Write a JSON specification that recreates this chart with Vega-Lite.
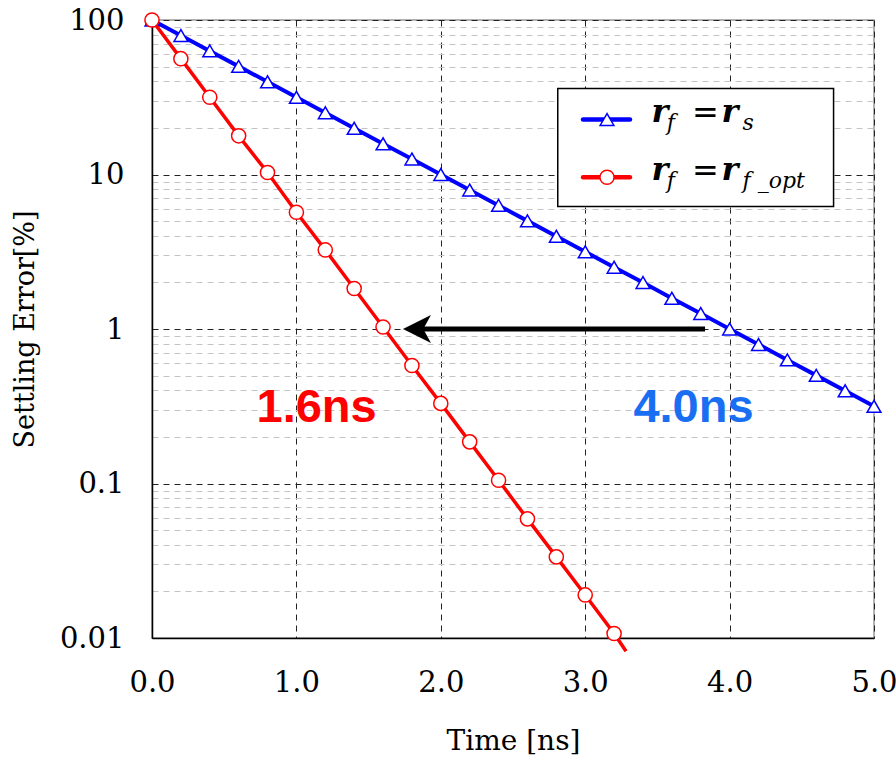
{
  "$schema": "https://vega.github.io/schema/vega-lite/v6.json",
  "width": 722,
  "height": 618,
  "autosize": {"type": "none"},
  "padding": {"left": 152, "top": 20, "right": 22, "bottom": 119},
  "background": "white",
  "config": {
    "view": {"stroke": "#999", "strokeWidth": 1.5},
    "font": "DejaVu Serif",
    "axis": {"labelFont": "DejaVu Serif", "titleFont": "DejaVu Serif", "titleFontWeight": "normal", "labelColor": "#000", "titleColor": "#000"}
  },
  "datasets": {
    "curves": [
      {"series": "rs", "t": 0.0, "v": 100},
      {"series": "rs", "t": 0.2, "v": 79.4},
      {"series": "rs", "t": 0.4, "v": 63.1},
      {"series": "rs", "t": 0.6, "v": 50.1},
      {"series": "rs", "t": 0.8, "v": 39.8},
      {"series": "rs", "t": 1.0, "v": 31.6},
      {"series": "rs", "t": 1.2, "v": 25.1},
      {"series": "rs", "t": 1.4, "v": 19.9},
      {"series": "rs", "t": 1.6, "v": 15.8},
      {"series": "rs", "t": 1.8, "v": 12.6},
      {"series": "rs", "t": 2.0, "v": 10.0},
      {"series": "rs", "t": 2.2, "v": 7.94},
      {"series": "rs", "t": 2.4, "v": 6.31},
      {"series": "rs", "t": 2.6, "v": 5.01},
      {"series": "rs", "t": 2.8, "v": 3.98},
      {"series": "rs", "t": 3.0, "v": 3.16},
      {"series": "rs", "t": 3.2, "v": 2.51},
      {"series": "rs", "t": 3.4, "v": 2.0},
      {"series": "rs", "t": 3.6, "v": 1.58},
      {"series": "rs", "t": 3.8, "v": 1.26},
      {"series": "rs", "t": 4.0, "v": 1.0},
      {"series": "rs", "t": 4.2, "v": 0.794},
      {"series": "rs", "t": 4.4, "v": 0.631},
      {"series": "rs", "t": 4.6, "v": 0.501},
      {"series": "rs", "t": 4.8, "v": 0.398},
      {"series": "rs", "t": 5.0, "v": 0.316},
      {"series": "opt", "t": 0.0, "v": 100},
      {"series": "opt", "t": 0.2, "v": 56.2},
      {"series": "opt", "t": 0.4, "v": 31.6},
      {"series": "opt", "t": 0.6, "v": 17.8},
      {"series": "opt", "t": 0.8, "v": 10.3},
      {"series": "opt", "t": 1.0, "v": 5.7},
      {"series": "opt", "t": 1.2, "v": 3.25},
      {"series": "opt", "t": 1.4, "v": 1.83},
      {"series": "opt", "t": 1.6, "v": 1.03},
      {"series": "opt", "t": 1.8, "v": 0.58},
      {"series": "opt", "t": 2.0, "v": 0.33},
      {"series": "opt", "t": 2.2, "v": 0.186},
      {"series": "opt", "t": 2.4, "v": 0.105},
      {"series": "opt", "t": 2.6, "v": 0.059},
      {"series": "opt", "t": 2.8, "v": 0.0335},
      {"series": "opt", "t": 3.0, "v": 0.019},
      {"series": "opt", "t": 3.2, "v": 0.0107},
      {"series": "opt", "t": 3.283, "v": 0.0082}
    ]
  },
  "layer": [
    {
      "data": {"values": [{"t": 0, "v": 1}]},
      "mark": {"type": "point", "opacity": 0},
      "encoding": {
        "x": {
          "field": "t", "type": "quantitative",
          "scale": {"domain": [0, 5], "nice": false, "zero": false},
          "axis": {
            "values": [0, 1, 2, 3, 4, 5], "format": ".1f", "title": "Time [ns]",
            "grid": true, "gridColor": "#222", "gridDash": [6, 5], "gridWidth": 1,
            "domainColor": "#000", "domainWidth": 1.5, "ticks": false,
            "labelFontSize": 29, "labelPadding": 30, "titleFontSize": 28, "titlePadding": 30,
            "labelFlush": false
          }
        },
        "y": {
          "field": "v", "type": "quantitative",
          "scale": {"type": "log", "domain": [0.01, 100], "nice": false, "zero": false},
          "axis": {
            "values": [0.01, 0.02, 0.03, 0.04, 0.05, 0.06, 0.07, 0.08, 0.09, 0.1, 0.2, 0.3, 0.4, 0.5, 0.6, 0.7, 0.8, 0.9, 1, 2, 3, 4, 5, 6, 7, 8, 9, 10, 20, 30, 40, 50, 60, 70, 80, 90, 100],
            "labelExpr": "indexof([0.01, 0.1, 1, 10, 100], datum.value) >= 0 ? toString(datum.value) : ''",
            "title": "Settling Error[%]",
            "grid": true,
            "gridColor": {"condition": {"test": "indexof([0.01, 0.1, 1, 10, 100], datum.value) >= 0", "value": "#222"}, "value": "#c4c4c4"},
            "gridDash": [6, 5], "gridWidth": 1,
            "domainColor": "#000", "domainWidth": 1.5, "ticks": false,
            "labelFontSize": 29, "labelPadding": 28, "titleFontSize": 27, "titlePadding": 20,
            "labelFlush": false, "labelOverlap": false
          }
        }
      }
    },
    {
      "data": {"name": "curves"},
      "transform": [{"filter": "datum.series == 'rs'"}],
      "mark": {"type": "line", "color": "#0000ff", "strokeWidth": 4},
      "encoding": {"x": {"field": "t", "type": "quantitative"}, "y": {"field": "v", "type": "quantitative"}}
    },
    {
      "data": {"name": "curves"},
      "transform": [{"filter": "datum.series == 'rs'"}],
      "mark": {"type": "point", "shape": "triangle-up", "filled": true, "fill": "white", "stroke": "#0000ff", "strokeWidth": 1.5, "size": 190, "opacity": 1},
      "encoding": {"x": {"field": "t", "type": "quantitative"}, "y": {"field": "v", "type": "quantitative"}}
    },
    {
      "data": {"name": "curves"},
      "transform": [{"filter": "datum.series == 'opt'"}],
      "mark": {"type": "line", "color": "#ff0000", "strokeWidth": 3.5, "clip": false},
      "encoding": {"x": {"field": "t", "type": "quantitative"}, "y": {"field": "v", "type": "quantitative"}}
    },
    {
      "data": {"name": "curves"},
      "transform": [{"filter": "datum.series == 'opt' && datum.t <= 3.2"}],
      "mark": {"type": "point", "shape": "circle", "filled": true, "fill": "white", "stroke": "#ff0000", "strokeWidth": 1.5, "size": 200, "opacity": 1},
      "encoding": {"x": {"field": "t", "type": "quantitative"}, "y": {"field": "v", "type": "quantitative"}}
    },
    {
      "data": {"values": [{"t": 3.83, "t2": 1.86, "v": 1}]},
      "mark": {"type": "rule", "color": "#000", "strokeWidth": 5},
      "encoding": {"x": {"field": "t", "type": "quantitative"}, "x2": {"field": "t2"}, "y": {"field": "v", "type": "quantitative"}}
    },
    {
      "data": {"values": [{"t": 1.835, "v": 1}]},
      "mark": {"type": "point", "shape": "M-1,0L1,-1L0.45,0L1,1Z", "filled": true, "color": "#000", "size": 784, "opacity": 1},
      "encoding": {"x": {"field": "t", "type": "quantitative"}, "y": {"field": "v", "type": "quantitative"}}
    },
    {
      "data": {"values": [{"t": 1.14, "v": 0.31, "label": "1.6ns"}]},
      "mark": {"type": "text", "font": "Liberation Sans", "fontWeight": "bold", "fontSize": 47, "color": "#ff0000", "baseline": "middle", "align": "center"},
      "encoding": {"x": {"field": "t", "type": "quantitative"}, "y": {"field": "v", "type": "quantitative"}, "text": {"field": "label"}}
    },
    {
      "data": {"values": [{"t": 3.75, "v": 0.31, "label": "4.0ns"}]},
      "mark": {"type": "text", "font": "Liberation Sans", "fontWeight": "bold", "fontSize": 47, "color": "#1a6ef2", "baseline": "middle", "align": "center"},
      "encoding": {"x": {"field": "t", "type": "quantitative"}, "y": {"field": "v", "type": "quantitative"}, "text": {"field": "label"}}
    },
    {
      "data": {"values": [{"t": 2.81, "t2": 4.72, "v": 36.0, "v2": 6.2}]},
      "mark": {"type": "rect", "fill": "white", "stroke": "#000", "strokeWidth": 1.5},
      "encoding": {"x": {"field": "t", "type": "quantitative"}, "x2": {"field": "t2"}, "y": {"field": "v", "type": "quantitative"}, "y2": {"field": "v2"}}
    },
    {
      "data": {"values": [{"t": 2.985, "t2": 3.31, "v": 22.7}]},
      "mark": {"type": "rule", "color": "#0000ff", "strokeWidth": 4.5, "strokeCap": "round"},
      "encoding": {"x": {"field": "t", "type": "quantitative"}, "x2": {"field": "t2"}, "y": {"field": "v", "type": "quantitative"}}
    },
    {
      "data": {"values": [{"t": 2.985, "t2": 3.31, "v": 9.6}]},
      "mark": {"type": "rule", "color": "#ff0000", "strokeWidth": 4.5, "strokeCap": "round"},
      "encoding": {"x": {"field": "t", "type": "quantitative"}, "x2": {"field": "t2"}, "y": {"field": "v", "type": "quantitative"}}
    },
    {
      "data": {"values": [{"t": 3.151, "v": 22.7}]},
      "mark": {"type": "point", "shape": "triangle-up", "filled": true, "fill": "white", "stroke": "#0000ff", "strokeWidth": 1.5, "size": 190, "opacity": 1},
      "encoding": {"x": {"field": "t", "type": "quantitative"}, "y": {"field": "v", "type": "quantitative"}}
    },
    {
      "data": {"values": [{"t": 3.151, "v": 9.6}]},
      "mark": {"type": "point", "shape": "circle", "filled": true, "fill": "white", "stroke": "#ff0000", "strokeWidth": 1.5, "size": 200, "opacity": 1},
      "encoding": {"x": {"field": "t", "type": "quantitative"}, "y": {"field": "v", "type": "quantitative"}}
    },
    {
      "data": {"values": [
        {"t": 3.46, "v": 22.7, "label": "r"},
        {"t": 3.944, "v": 22.7, "label": "r"},
        {"t": 3.46, "v": 9.6, "label": "r"},
        {"t": 3.944, "v": 9.6, "label": "r"}
      ]},
      "mark": {"type": "text", "font": "DejaVu Serif", "fontStyle": "italic", "fontWeight": "bold", "fontSize": 32, "color": "#000", "baseline": "alphabetic", "align": "left", "dy": 3},
      "encoding": {"x": {"field": "t", "type": "quantitative"}, "y": {"field": "v", "type": "quantitative"}, "text": {"field": "label"}}
    },
    {
      "data": {"values": [
        {"t": 3.74, "v": 22.7, "label": "="},
        {"t": 3.74, "v": 9.6, "label": "="}
      ]},
      "mark": {"type": "text", "font": "DejaVu Sans", "fontSize": 32, "color": "#000", "baseline": "alphabetic", "align": "left", "dy": 4},
      "encoding": {"x": {"field": "t", "type": "quantitative"}, "y": {"field": "v", "type": "quantitative"}, "text": {"field": "label"}}
    },
    {
      "data": {"values": [
        {"t": 3.565, "v": 22.7, "label": "f"},
        {"t": 4.09, "v": 22.7, "label": "s"},
        {"t": 3.565, "v": 9.6, "label": "f"},
        {"t": 4.09, "v": 9.6, "label": "f _opt"}
      ]},
      "mark": {"type": "text", "font": "DejaVu Serif", "fontStyle": "italic", "fontSize": 22, "color": "#000", "baseline": "alphabetic", "align": "left", "dy": 11},
      "encoding": {"x": {"field": "t", "type": "quantitative"}, "y": {"field": "v", "type": "quantitative"}, "text": {"field": "label"}}
    }
  ]
}
